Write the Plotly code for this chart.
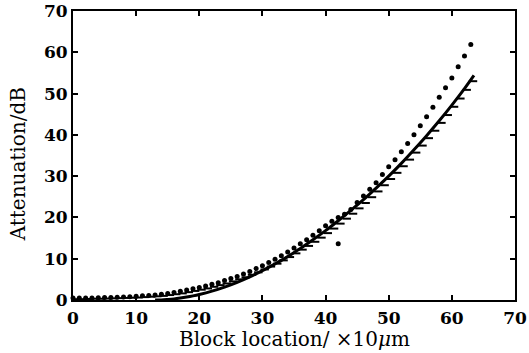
import plotly.graph_objects as go

# Measured series 1 (dots)
dot_x = list(range(0, 64))
dot_y = [0.5, 0.5, 0.5, 0.5, 0.55, 0.6, 0.6, 0.65, 0.7, 0.8,
         0.9, 1.0, 1.1, 1.2, 1.4, 1.6, 1.8, 2.1, 2.4, 2.7,
         3.0, 3.4, 3.8, 4.2, 4.7, 5.2, 5.7, 6.3, 6.9, 7.6,
         8.3, 9.1, 9.9, 10.7, 11.6, 12.6, 13.6, 14.6, 15.7, 16.8,
         18.0, 19.1, 20.0, 20.8, 21.9, 23.6, 25.2, 26.8, 28.4, 30.4,
         32.3, 34.0, 35.9, 37.9, 40.0, 42.2, 44.4, 46.7, 49.1, 51.4,
         53.8, 56.5, 59.1, 61.9]
outlier_x = [42]
outlier_y = [13.6]

# Measured series 2 (dash marks)
dash_x = list(range(0, 64))
dash_y = [0.2, 0.2, 0.25, 0.3, 0.3, 0.35, 0.4, 0.45, 0.5, 0.55,
          0.6, 0.7, 0.8, 0.9, 1.0, 1.2, 1.4, 1.6, 1.9, 2.2,
          2.5, 2.8, 3.2, 3.6, 4.0, 4.5, 5.0, 5.5, 6.1, 6.7,
          7.4, 8.1, 8.8, 9.6, 10.4, 11.3, 12.2, 13.1, 14.1, 15.1,
          16.2, 17.3, 18.5, 19.7, 20.9, 22.2, 23.5, 24.9, 26.3, 27.8,
          29.3, 30.8, 32.4, 34.0, 35.7, 37.4, 39.2, 41.0, 42.9, 44.8,
          46.8, 48.8, 50.9, 53.0]

# Theoretical curve (solid line)
fit_x = [13, 14, 15, 16, 17, 18, 19, 20, 22, 24, 26, 28, 30, 32, 34, 36, 38,
         40, 42, 44, 46, 48, 50, 52, 54, 56, 58, 60, 62, 63.5]
fit_y = [0.0, 0.03, 0.13, 0.27, 0.47, 0.71, 1.0, 1.34, 2.15, 3.13, 4.29, 5.6,
         7.1, 8.75, 10.5, 12.5, 14.6, 16.8, 19.2, 21.7, 24.3, 27.1, 30.0,
         33.1, 36.4, 39.8, 43.4, 47.2, 51.2, 54.4]

x_ticks = [0, 10, 20, 30, 40, 50, 60, 70]
y_ticks = [0, 10, 20, 30, 40, 50, 60, 70]

fig = go.Figure()
fig.add_trace(go.Scatter(x=fit_x, y=fit_y, mode="lines", line=dict(color="black", width=3, shape="spline"),
                         showlegend=False, cliponaxis=False))
fig.add_trace(go.Scatter(x=[v + 0.35 for v in dash_x], y=dash_y, mode="markers",
                         marker=dict(symbol="line-ew", size=6, line=dict(color="black", width=2)),
                         showlegend=False, cliponaxis=False))
fig.add_trace(go.Scatter(x=dot_x, y=dot_y, mode="markers",
                         marker=dict(symbol="circle", size=5, color="black"),
                         showlegend=False, cliponaxis=False))
fig.add_trace(go.Scatter(x=outlier_x, y=outlier_y, mode="markers",
                         marker=dict(symbol="circle", size=5, color="black"),
                         showlegend=False, cliponaxis=False))

font_tick = dict(family="DejaVu Serif", size=17, color="black", weight="bold")
font_title = dict(family="DejaVu Serif", size=20, color="black")

fig.update_layout(
    width=529, height=353,
    margin=dict(l=73, r=14, t=11, b=53),
    paper_bgcolor="white", plot_bgcolor="white",
    xaxis=dict(range=[0, 70], tickvals=x_ticks, ticktext=[str(v) for v in x_ticks],
               showgrid=False, zeroline=False, showline=True, linecolor="black", linewidth=2,
               mirror="ticks", ticks="inside", ticklen=5, tickwidth=1.5, tickcolor="black",
               tickfont=font_tick, automargin=False, ticklabelstandoff=2),
    yaxis=dict(range=[0, 70], tickvals=y_ticks, ticktext=[str(v) for v in y_ticks],
               showgrid=False, zeroline=False, showline=True, linecolor="black", linewidth=2,
               mirror="ticks", ticks="inside", ticklen=5, tickwidth=1.5, tickcolor="black",
               tickfont=font_tick, automargin=False, ticklabelstandoff=0),
    annotations=[
        dict(text="Block location/ ×10<i>μ</i>m", xref="paper", yref="paper", x=0.5, y=-0.135,
             xanchor="center", yanchor="middle", showarrow=False, font=font_title),
        dict(text="Attenuation/dB", xref="paper", yref="paper", x=-0.124, y=0.47,
             xanchor="center", yanchor="middle", showarrow=False, textangle=-90, font=font_title),
    ],
)

fig.write_html("out.html", config={"displayModeBar": False},
               post_script="document.body.style.margin='0';document.body.style.padding='0';")
